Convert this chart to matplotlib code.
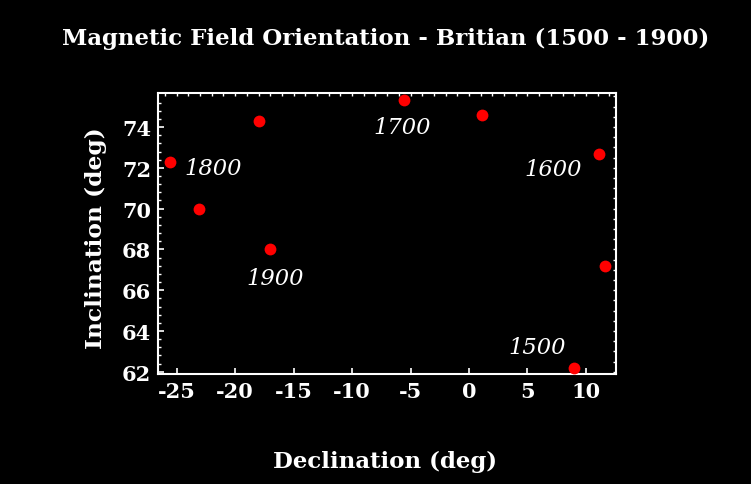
import matplotlib
matplotlib.use("Agg")
import matplotlib.pyplot as plt
import matplotlib.ticker as mticker
import numpy as np

# Data (declination, inclination)
declination = [-25.6, -23.1, -18.0, -17.0, -5.6, 1.1, 11.1, 11.6, 9.0]
inclination = [72.3, 70.0, 74.3, 68.0, 75.35, 74.6, 72.7, 67.2, 62.2]

year_labels = ["1800", "1900", "1700", "1600", "1500"]
label_x = [-21.9, -16.6, -5.75, 7.2, 5.8]
label_y = [72.0, 66.6, 74.0, 71.95, 63.2]

x_ticks = [-25, -20, -15, -10, -5, 0, 5, 10]
y_ticks = [62, 64, 66, 68, 70, 72, 74]

title = "Magnetic Field Orientation - Britian (1500 - 1900)"
xlabel = "Declination (deg)"
ylabel = "Inclination (deg)"

serif = ["DejaVu Serif"]

fig = plt.figure(figsize=(7.51, 4.85), dpi=100, facecolor="black")
ax = fig.add_axes([0.2104, 0.2268, 0.6098, 0.5794], facecolor="black")

ax.plot(declination, inclination, "o", color="#ff0000", markersize=8.5,
        markeredgewidth=0, clip_on=False, zorder=3)

for t, lx, ly in zip(year_labels, label_x, label_y):
    ax.text(lx, ly, t, color="white", fontsize=16.3, fontstyle="italic",
            family=serif, ha="center", va="center")

ax.set_xlim(-26.6, 12.57)
ax.set_ylim(61.89, 75.67)

for s in ax.spines.values():
    s.set_color("white")
    s.set_linewidth(1.5)

ax.set_xticks(x_ticks)
ax.set_yticks(y_ticks)
ax.xaxis.set_major_formatter(mticker.FuncFormatter(lambda v, p: f"{v:g}"))
ax.yaxis.set_major_formatter(mticker.FuncFormatter(lambda v, p: f"{v:g}"))
ax.set_yticks(np.arange(62, 75.6, 0.4), minor=True)
ax.tick_params(axis="both", which="major", direction="in", length=4, width=1.2,
               colors="white", labelsize=15, pad=5)
ax.tick_params(axis="y", which="minor", direction="in", length=2.5, width=1.0,
               colors="white")
for lab in ax.get_xticklabels() + ax.get_yticklabels():
    lab.set_fontfamily(serif)
    lab.set_fontweight("bold")

top = ax.secondary_xaxis("top")
top.set_xticks(np.arange(-26, 13, 1))
top.tick_params(direction="in", length=2.5, width=1.0, colors="white", labeltop=False)
top.spines["top"].set_visible(False)
right = ax.secondary_yaxis("right")
right.set_yticks(np.arange(62, 75.6, 0.5))
right.tick_params(direction="in", length=2.5, width=1.0, colors="white", labelright=False)
right.spines["right"].set_visible(False)

fig.text(0.513, 0.92, title, color="white", fontsize=16.5, fontweight="bold",
         family=serif, ha="center", va="center")
fig.text(0.513, 0.047, xlabel, color="white", fontsize=16.5, fontweight="bold",
         family=serif, ha="center", va="center")
fig.text(0.128, 0.51, ylabel, color="white", fontsize=16.8, fontweight="bold",
         family=serif, ha="center", va="center", rotation=90)

fig.savefig("out.png", dpi=100, facecolor="black")
